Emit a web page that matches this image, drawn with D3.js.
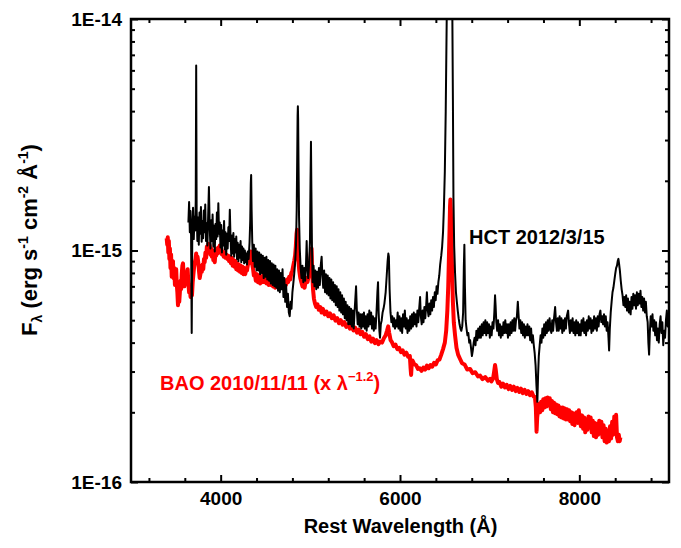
<!DOCTYPE html>
<html>
<head>
<meta charset="utf-8">
<script src="https://cdn.jsdelivr.net/npm/d3@7"></script>
<style>
  html, body { margin: 0; padding: 0; background: #fff; }
  svg { display: block; }
  text { font-family: "Liberation Sans", Arial, sans-serif; font-weight: bold; }
</style>
</head>
<body>
<svg id="chart" width="681" height="548"></svg>
<script>
// Flux values are in units of 1E-16 erg s^-1 cm^-2 A^-1, wavelengths in Angstrom.

// HCT spectrum, 2012/3/15
const hctSpectrum = [
[3640,13.2],[3648,16.2],[3656,12.0],[3663,14.8],[3670,11.6],[3677,4.4],[3684,12.4],[3692,15.3],[3700,11.2],[3708,14.0],[3716,12.2],[3722,16.5],[3727,63],[3732,15.0],[3740,11.0],[3748,13.9],[3756,10.6],[3764,14.6],[3772,11.8],[3780,15.4],[3788,10.9],[3796,13.4],[3804,11.3],[3812,14.9],[3820,12.0],[3828,15.8],[3836,11.0],[3844,13.1],[3852,10.5],[3860,13.8],[3869,18.8],[3878,12.6],[3886,10.2],[3894,13.5],[3902,11.0],[3910,14.3],[3918,10.4],[3926,12.8],[3934,9.9],[3942,13.0],[3950,11.2],[3958,14.6],[3966,11.5],[3974,16.0],[3982,11.8],[3990,13.2],[3998,10.3],[4006,12.9],[4014,9.8],[4022,12.2],[4030,10.5],[4038,13.4],[4046,10.1],[4054,12.0],[4062,9.6],[4070,11.8],[4078,10.2],[4086,12.6],[4094,11.0],[4102,15.0],[4110,11.4],[4118,9.5],[4126,11.6],[4134,9.7],[4142,11.9],[4150,9.4],[4158,11.2],[4166,9.8],[4174,11.5],[4182,9.2],[4190,10.8],[4198,9.0],[4206,10.6],[4214,9.3],[4222,11.0],[4230,8.9],[4238,10.4],[4246,9.1],[4254,10.2],[4262,8.8],[4270,10.0],[4278,8.9],[4286,9.7],[4294,8.7],[4302,9.9],[4312,9.2],[4322,10.8],[4330,13.5],[4336,19.5],[4340,21.2],[4345,15.0],[4352,11.0],[4360,9.0],[4370,10.6],[4380,8.5],[4390,10.2],[4400,8.2],[4410,9.9],[4420,8.2],[4430,9.8],[4440,7.9],[4450,9.6],[4460,8.0],[4470,9.5],[4480,7.6],[4490,9.3],[4500,7.7],[4510,9.4],[4520,7.5],[4530,9.1],[4540,7.4],[4550,9.0],[4560,7.2],[4570,8.8],[4580,7.1],[4590,8.7],[4600,7.0],[4610,8.6],[4620,6.9],[4630,8.3],[4640,6.7],[4650,8.2],[4660,6.6],[4670,8.0],[4680,6.8],[4690,8.3],[4700,6.3],[4710,7.6],[4720,6.0],[4730,7.1],[4740,5.7],[4750,6.5],[4760,5.4],[4770,5.2],[4780,6.0],[4790,5.6],[4800,6.6],[4810,7.2],[4820,7.9],[4830,8.8],[4840,10.5],[4848,15],[4854,26],[4858,38],[4861,42],[4864,37],[4868,24],[4874,14],[4882,10.2],[4892,8.4],[4902,7.6],[4912,8.6],[4922,7.3],[4932,8.4],[4942,7.4],[4952,8.8],[4959,11.0],[4966,8.6],[4976,7.6],[4986,8.7],[4996,11],[5002,20],[5007,29.5],[5012,18],[5018,10.5],
[5026,7.3],[5036,8.6],[5046,7.0],[5056,8.2],[5066,6.8],[5076,8.1],[5086,6.9],[5096,8.4],[5106,7.1],[5116,8.6],[5126,9.4],[5134,7.8],[5144,6.9],[5154,8.2],[5164,6.6],[5174,7.9],[5184,6.5],[5194,7.8],[5204,6.4],[5214,7.6],[5224,6.2],[5234,7.5],[5244,6.1],[5254,7.3],[5264,6.0],[5274,7.1],[5284,5.8],[5294,7.0],[5304,5.7],[5314,6.8],[5324,5.5],[5334,6.6],[5344,5.4],[5354,6.4],[5364,5.3],[5374,6.2],[5384,5.1],[5394,6.0],[5404,5.0],[5414,5.8],[5424,4.8],[5434,5.7],[5444,4.8],[5454,5.6],[5464,4.7],[5474,5.5],[5484,4.6],[5494,5.5],[5502,6.2],[5510,7.0],[5518,5.6],[5528,4.8],[5538,5.4],[5548,4.7],[5558,5.3],[5568,4.6],[5578,5.3],[5588,4.7],[5598,5.4],[5608,4.6],[5618,5.2],[5628,4.5],[5638,5.3],[5648,4.7],[5658,5.5],[5668,4.8],[5678,5.4],[5688,4.6],[5698,5.2],[5708,4.5],[5718,5.1],[5728,4.6],[5738,5.4],[5748,6.6],[5755,7.3],[5762,5.4],[5770,4.5],[5777,4.2],[5786,4.8],[5796,5.0],[5806,5.4],[5816,5.6],[5826,5.9],[5840,6.6],[5852,7.8],[5862,9.0],[5870,9.7],[5876,9.4],[5884,6.8],[5894,5.4],[5904,4.9],[5914,5.2],[5924,4.7],[5934,5.1],[5944,4.6],[5954,5.0],
[5964,4.7],[5974,5.4],[5984,4.6],[5994,5.2],[6004,4.5],[6014,5.1],[6024,4.4],[6034,5.3],[6044,4.7],[6054,5.5],[6064,4.6],[6074,5.1],[6084,4.4],[6094,5.0],[6104,4.5],[6114,5.2],[6124,4.6],[6134,5.3],[6144,4.7],[6154,5.4],[6164,4.8],[6174,5.3],[6184,4.7],[6194,5.5],[6204,4.9],[6214,5.6],[6224,6.3],[6232,5.2],[6242,4.8],[6252,5.5],[6262,4.9],[6272,5.7],[6282,5.1],[6292,5.8],[6300,6.6],[6308,5.6],[6318,5.2],[6328,5.9],[6338,5.3],[6348,6.1],[6358,5.5],[6368,6.3],[6378,5.7],[6388,6.6],[6398,6.1],[6408,7.0],[6418,6.5],[6428,7.3],[6438,7.8],[6448,8.7],[6460,9.5],[6470,10.4],[6480,12.0],[6490,15.5],[6500,22],[6510,40],[6521,100],[6535,200],[6550,290],[6565,280],[6575,200],[6584,100],[6590,45],[6596,17],[6604,10.5],[6614,8.0],[6624,6.6],[6634,6.0],[6644,5.5],[6654,5.1],[6664,4.8],[6674,4.6],[6684,4.5],[6694,4.7],[6704,5.4],[6712,8.5],[6718,10.6],[6724,7.0],[6732,5.0],[6742,4.6],[6752,4.3],[6762,4.4],[6772,4.0],[6782,4.1],[6792,3.8],[6802,3.5],[6812,3.7],[6822,4.0],[6832,4.2],[6842,3.9],[6852,4.5],[6862,4.1],[6872,4.6],[6882,4.2],[6892,4.7],[6902,4.2],[6912,4.8],[6922,4.3],[6932,4.9],[6942,4.4],[6952,5.0],[6962,4.3],[6972,4.9],[6982,4.4],[6992,4.8],[7002,4.2],[7012,4.7],[7022,4.3],[7032,4.9],[7042,4.6],[7052,5.4],[7060,6.4],[7066,5.8],[7074,4.9],[7084,4.5],[7094,5.0],[7104,4.3],[7114,4.8],[7124,4.2],[7134,4.7],[7144,4.3],[7154,4.9],[7164,4.4],[7174,5.0],[7184,4.4],[7194,4.8],[7204,4.2],[7214,4.8],[7224,4.3],[7234,4.9],[7244,4.4],[7254,5.0],[7264,4.5],[7274,5.1],[7284,4.5],[7294,5.0],[7304,5.2],[7314,6.0],[7322,5.3],[7332,4.6],[7342,5.0],[7352,4.4],[7362,4.9],[7372,4.3],[7382,4.8],[7392,4.2],[7402,4.7],[7412,4.3],[7422,4.8],[7432,4.3],[7442,4.7],[7452,4.1],[7462,4.6],[7472,4.0],[7482,4.3],[7492,3.9],[7502,3.6],[7512,3.2],[7522,2.6],[7532,2.22],[7540,2.9],[7548,3.5],[7558,3.9],[7568,4.3],[7578,4.0],[7588,4.6],[7598,4.2],[7608,4.8],[7618,4.3],[7628,4.9],[7638,4.4],[7648,5.0],[7658,4.5],[7668,5.1],[7678,4.6],[7688,4.4],[7698,5.0],[7708,4.5],[7718,5.1],[7730,5.7],[7740,4.9],[7750,4.5],[7760,5.1],[7770,4.5],[7780,5.2],[7790,4.6],[7800,5.1],[7810,4.4],[7820,5.0],[7830,4.5],[7840,5.1],[7850,4.6],[7860,5.2],[7875,5.5],[7885,4.8],[7895,4.4],[7905,5.0],[7915,4.5],[7925,5.1],[7935,4.4],[7945,4.9],[7955,4.3],[7965,5.0],[7975,4.4],[7985,4.9],[7995,4.3],[8005,4.8],[8015,4.3],[8025,5.0],[8035,4.5],[8045,5.1],[8055,4.4],[8065,4.9],[8075,4.3],[8085,5.0],[8095,4.5],[8105,5.2],[8115,4.6],[8125,5.1],[8135,4.4],[8145,5.0],[8155,4.5],[8165,5.2],[8175,4.6],[8185,5.1],[8195,4.5],[8205,5.2],[8215,4.7],[8225,5.3],[8235,5.5],[8245,4.9],[8255,5.2],[8265,4.8],[8275,5.3],[8285,4.7],[8295,5.2],[8305,4.5],[8315,4.9],[8325,4.2],[8332,3.7],[8340,4.6],[8350,5.4],[8360,6.0],[8370,6.6],[8380,6.9],[8390,7.4],[8400,7.9],[8410,8.4],[8420,8.6],[8428,9.0],[8436,9.2],[8444,8.7],[8452,8.2],[8462,7.4],[8472,6.8],[8482,6.4],[8492,5.8],[8502,6.3],[8512,5.7],[8522,6.4],[8532,5.5],[8542,6.2],[8552,5.4],[8562,6.0],[8572,5.3],[8582,6.3],[8592,5.6],[8602,6.5],[8612,5.8],[8622,6.4],[8632,5.6],[8642,6.6],[8652,5.8],[8662,6.5],[8672,5.9],[8682,6.7],[8692,5.7],[8702,6.3],[8712,5.5],[8722,6.2],[8732,5.4],[8742,6.0],[8752,5.2],[8762,4.9],[8770,4.0],[8778,3.55],[8786,4.4],[8796,5.2],[8806,4.7],[8816,5.3],[8826,4.5],[8836,5.0],[8846,4.3],[8856,4.9],[8866,4.1],[8876,4.6],[8886,4.0],[8896,4.8],[8906,5.2],[8916,4.4],[8926,4.9],[8936,3.9],[8946,4.5],[8956,4.2],[8966,5.0],[8976,5.5],[8986,4.7],[9000,4.9]
];

// BAO spectrum, 2010/11/11, scaled by lambda^-1.2
const baoSpectrum = [
[3398,11.3],[3404,10.6],[3410,11.4],[3416,9.8],[3422,11.0],[3428,9.2],[3434,10.2],[3440,8.4],[3447,9.6],[3454,7.7],[3461,8.8],[3468,9.0],[3475,7.6],[3482,8.4],[3490,7.1],[3497,8.0],[3504,8.3],[3510,7.2],[3517,6.6],[3524,5.8],[3531,6.9],[3538,6.0],[3545,6.6],[3552,7.4],[3559,6.8],[3566,7.9],[3573,8.6],[3580,8.8],[3588,7.6],[3595,7.0],[3602,7.3],[3609,7.9],[3616,7.4],[3624,8.0],[3632,8.3],[3640,7.2],[3648,6.6],[3656,6.9],[3664,6.3],[3672,6.8],[3680,6.4],[3688,7.3],[3696,7.9],[3704,8.5],[3712,8.9],[3720,9.2],[3727,9.7],[3734,9.0],[3742,9.4],[3750,8.9],[3758,8.2],[3766,7.6],[3774,7.9],[3782,8.6],[3790,8.1],[3798,8.7],
[3806,8.3],[3814,9.2],[3822,8.9],[3830,9.8],[3838,9.3],[3846,10.4],[3854,9.9],[3862,10.7],[3870,10.0],[3878,10.5],[3886,9.6],[3894,10.2],[3902,9.4],[3910,10.0],[3918,9.1],[3926,9.4],[3934,8.9],[3942,9.8],[3950,9.5],[3958,10.2],[3966,9.7],[3974,10.3],[3982,9.8],[3990,10.5],[3998,9.9],[4006,10.2],[4014,9.6],[4024,9.9],[4034,9.4],[4044,9.8],[4054,9.3],[4064,9.6],[4074,9.2],[4084,9.5],[4094,9.0],
[4104,9.4],[4114,8.8],[4124,9.3],[4134,8.6],[4144,9.1],[4154,8.5],[4164,9.0],[4174,8.3],[4184,8.8],[4194,8.2],[4204,8.7],[4214,8.1],[4224,8.6],[4234,8.0],[4244,8.5],[4254,7.9],[4264,8.4],[4274,7.9],[4284,8.3],[4294,8.2],[4304,8.7],[4314,8.8],[4324,9.5],[4334,9.9],[4342,9.6],[4350,8.8],[4360,8.4],[4370,7.8],[4380,8.0],[4392,7.4],[4404,7.9],[4416,7.3],[4428,7.8],[4440,7.2],[4452,7.7],[4464,7.3],[4476,7.9],[4488,7.3],[4500,7.8],[4512,7.2],[4524,7.7],[4536,7.1],[4548,7.6],[4560,7.1],[4572,7.5],[4584,7.0],[4596,7.5],[4608,6.9],[4620,7.4],[4632,7.0],[4644,7.5],[4656,6.9],[4668,7.4],[4680,7.0],[4692,7.5],[4704,6.9],[4716,7.3],[4728,7.1],[4740,7.5],[4752,7.3],[4764,7.7],[4776,7.5],[4788,8.0],
[4800,8.2],[4810,8.6],[4820,9.0],[4830,9.5],[4838,10.4],[4846,11.8],[4852,12.3],[4858,11.0],[4866,9.2],[4876,8.2],[4888,7.6],[4900,7.3],[4912,7.0],[4924,7.3],[4936,6.9],[4948,7.4],[4958,7.6],[4968,7.3],[4980,7.7],[4992,8.1],[5000,8.9],[5008,10.0],[5014,10.2],[5020,8.2],[5030,6.8],[5040,6.2],
[5052,5.9],[5066,5.7],[5080,5.85],[5094,5.55],[5110,5.7],[5125,5.4],[5140,5.6],[5160,5.3],[5180,5.45],[5200,5.2],[5220,5.35],[5240,5.1],[5260,5.25],[5280,4.98],[5300,5.1],[5320,4.85],[5340,5.0],[5360,4.78],[5380,4.9],[5400,4.68],[5420,4.8],[5440,4.6],[5460,4.72],[5480,4.52],[5500,4.64],[5520,4.42],[5540,4.55],[5560,4.35],[5580,4.45],[5600,4.24],[5620,4.35],[5640,4.14],[5660,4.26],[5680,4.04],[5700,4.16],[5720,3.98],[5740,4.1],[5760,3.94],[5780,4.04],[5800,4.0],[5820,4.18],[5840,4.3],[5855,4.5],[5868,4.7],[5880,4.4],[5895,4.1],
[5910,4.02],[5930,3.86],[5950,3.92],[5970,3.75],[5990,3.8],[6010,3.64],[6030,3.7],[6050,3.55],[6070,3.62],[6090,3.48],[6110,3.5],[6118,3.1],[6124,2.9],[6130,3.2],[6140,3.35],[6160,3.22],[6180,3.2],[6200,3.08],[6220,3.1],[6240,3.02],[6260,3.12],[6280,3.06],[6300,3.18],[6320,3.1],[6340,3.2],[6360,3.15],[6380,3.27],[6400,3.22],[6420,3.36],[6440,3.38],[6460,3.55],[6480,3.75],[6500,4.0],[6515,4.5],[6528,5.5],[6538,7.0],[6546,9.5],[6553,12.5],[6558,15.5],[6562,16.6],[6567,15.0],[6572,12.0],[6580,8.5],[6590,6.0],[6600,4.9],[6614,4.3],[6630,3.8],[6648,3.55],
[6670,3.4],[6692,3.26],[6720,3.22],[6750,3.06],[6781,3.08],[6810,2.95],[6840,2.98],[6870,2.86],[6893,2.88],[6920,2.78],[6950,2.84],[6980,2.74],[7004,2.79],[7020,2.72],[7038,2.8],[7050,3.0],[7060,3.2],[7068,3.05],[7080,2.78],[7093,2.68],
[7110,2.7],[7130,2.58],[7150,2.66],[7170,2.56],[7190,2.63],[7210,2.52],[7230,2.6],[7250,2.5],[7270,2.58],[7290,2.47],[7310,2.55],[7330,2.45],[7350,2.53],[7370,2.42],[7390,2.5],[7410,2.4],[7430,2.47],[7450,2.37],[7470,2.44],[7490,2.34],[7505,2.33],[7515,2.1],[7523,1.65],[7530,1.9],
[7540,2.05],[7552,2.18],[7562,2.0],[7574,2.22],[7586,2.04],[7598,2.28],[7610,2.1],[7622,2.3],[7634,2.12],[7646,2.32],[7658,2.14],[7670,2.3],[7682,2.06],[7694,2.24],[7706,2.0],[7718,2.2],[7730,1.98],[7742,2.16],[7754,1.96],[7766,2.14],[7778,1.92],[7790,2.1],[7802,1.9],[7814,2.1],[7826,1.88],[7838,2.08],[7850,1.86],[7862,2.06],[7874,1.86],[7886,2.04],[7898,1.83],[7910,2.0],[7922,1.78],[7934,1.98],[7946,1.76],[7958,1.94],[7970,2.0],[7982,1.8],[7994,2.04],[8006,1.84],[8018,1.74],[8030,1.94],[8042,1.7],[8054,1.9],[8066,1.64],[8078,1.86],[8090,1.68],[8102,1.92],[8114,1.74],[8126,1.9],[8138,1.64],[8150,1.84],[8162,1.58],[8174,1.8],[8186,1.56],[8198,1.78],[8210,1.6],[8222,1.84],[8234,1.62],[8246,1.82],[8258,1.56],[8270,1.76],[8282,1.5],[8294,1.7],[8306,1.48],[8318,1.66],[8330,1.5],[8342,1.74],[8354,1.54],[8366,1.82],[8378,1.6],[8390,1.92],[8400,1.66],[8410,1.95],[8420,1.56],[8430,1.5],[8440,1.6],[8450,1.5],[8458,1.56]
];

const fluxUnit = 1e-16;

// Axis ticks
const xMajorTicks = [4000, 6000, 8000];
const xTickLabels = ["4000", "6000", "8000"];
const xMinorTicks = [3200, 3600, 4400, 4800, 5200, 5600, 6400, 6800, 7200, 7600, 8400, 8800];
const yMajorTicks = [1e-16, 1e-15, 1e-14];
const yTickLabels = ["1E-16", "1E-15", "1E-14"];
const yMinorTicks = [2e-16,3e-16,4e-16,5e-16,6e-16,7e-16,8e-16,9e-16,2e-15,3e-15,4e-15,5e-15,6e-15,7e-15,8e-15,9e-15];

// Text
const xTitle = "Rest Wavelength (Å)";
const hctLabel = "HCT 2012/3/15";
const baoLabel = "BAO 2010/11/11 (x λ";
const baoLabelExp = "−1.2";

const svg = d3.select("#chart");
const L = 131, R = 669, T = 19, B = 482;

const x = d3.scaleLinear().domain([3000, 9000]).range([L, R]);
const y = d3.scaleLog().domain([1e-16, 1e-14]).range([B, T]);

svg.append("defs").append("clipPath").attr("id", "plotClip")
  .append("rect").attr("x", L).attr("y", T).attr("width", R - L).attr("height", B - T);

const line = d3.line()
  .x(d => x(d[0]))
  .y(d => y(d[1] * fluxUnit));

const plot = svg.append("g").attr("clip-path", "url(#plotClip)");

plot.append("path")
  .datum(baoSpectrum)
  .attr("d", line)
  .attr("fill", "none")
  .attr("stroke", "#ff0000")
  .attr("stroke-width", 4)
  .attr("stroke-linejoin", "round");

plot.append("path")
  .datum(hctSpectrum)
  .attr("d", line)
  .attr("fill", "none")
  .attr("stroke", "#000")
  .attr("stroke-width", 2)
  .attr("stroke-linejoin", "round");

// Axes: ticks point inward on all four sides
function styleAxis(g) {
  g.select(".domain").remove();
  g.selectAll(".tick line").attr("stroke", "#000").attr("stroke-width", 2);
  g.selectAll("text").attr("fill", "#000").style("font-size", "19px").style("font-weight", "bold")
    .attr("font-family", null);
}

const majorLen = 7, minorLen = 4;

// bottom
svg.append("g").attr("transform", `translate(0,${B})`)
  .call(d3.axisBottom(x).tickValues(xMajorTicks).tickSizeInner(-majorLen).tickSizeOuter(0)
    .tickPadding(10).tickFormat((d, i) => xTickLabels[i]))
  .call(styleAxis);
svg.append("g").attr("transform", `translate(0,${B})`)
  .call(d3.axisBottom(x).tickValues(xMinorTicks).tickSizeInner(-minorLen).tickSizeOuter(0).tickFormat(""))
  .call(styleAxis);
// top
svg.append("g").attr("transform", `translate(0,${T})`)
  .call(d3.axisTop(x).tickValues(xMajorTicks).tickSizeInner(-majorLen).tickSizeOuter(0).tickFormat(""))
  .call(styleAxis);
svg.append("g").attr("transform", `translate(0,${T})`)
  .call(d3.axisTop(x).tickValues(xMinorTicks).tickSizeInner(-minorLen).tickSizeOuter(0).tickFormat(""))
  .call(styleAxis);
// left
svg.append("g").attr("transform", `translate(${L},0)`)
  .call(d3.axisLeft(y).tickValues(yMajorTicks).tickSizeInner(-majorLen).tickSizeOuter(0)
    .tickPadding(9).tickFormat((d, i) => yTickLabels[i]))
  .call(styleAxis);
svg.append("g").attr("transform", `translate(${L},0)`)
  .call(d3.axisLeft(y).tickValues(yMinorTicks).tickSizeInner(-minorLen).tickSizeOuter(0).tickFormat(""))
  .call(styleAxis);
// right
svg.append("g").attr("transform", `translate(${R},0)`)
  .call(d3.axisRight(y).tickValues(yMajorTicks).tickSizeInner(-majorLen).tickSizeOuter(0).tickFormat(""))
  .call(styleAxis);
svg.append("g").attr("transform", `translate(${R},0)`)
  .call(d3.axisRight(y).tickValues(yMinorTicks).tickSizeInner(-minorLen).tickSizeOuter(0).tickFormat(""))
  .call(styleAxis);

// frame
svg.append("rect")
  .attr("x", L).attr("y", T).attr("width", R - L).attr("height", B - T)
  .attr("fill", "none").attr("stroke", "#000").attr("stroke-width", 2.5);

// x title
svg.append("text")
  .attr("x", (L + R) / 2 + 0.5).attr("y", 533)
  .attr("text-anchor", "middle")
  .style("font-size", "20px")
  .text(xTitle);

// y title with sub/superscripts
const yt = svg.append("text")
  .attr("transform", "translate(37,240) rotate(-90)")
  .attr("text-anchor", "middle")
  .style("font-size", "22px");
yt.append("tspan").text("F");
yt.append("tspan").attr("dy", 5).style("font-size", "14px").text("λ");
yt.append("tspan").attr("dy", -5).text(" (erg s");
yt.append("tspan").attr("dy", -9).style("font-size", "14px").text("-1");
yt.append("tspan").attr("dy", 9).text(" cm");
yt.append("tspan").attr("dy", -9).style("font-size", "14px").text("-2");
yt.append("tspan").attr("dy", 9).text(" Å");
yt.append("tspan").attr("dy", -9).style("font-size", "14px").text("-1");
yt.append("tspan").attr("dy", 9).text(")");

// series labels
svg.append("text")
  .attr("x", 469).attr("y", 244)
  .style("font-size", "20px").attr("fill", "#000")
  .text(hctLabel);

const bl = svg.append("text")
  .attr("x", 160).attr("y", 390)
  .style("font-size", "20px").attr("fill", "#ff0000");
bl.append("tspan").text(baoLabel);
bl.append("tspan").attr("dy", -9).style("font-size", "13px").text(baoLabelExp);
bl.append("tspan").attr("dy", 9).text(")");
</script>
</body>
</html>
